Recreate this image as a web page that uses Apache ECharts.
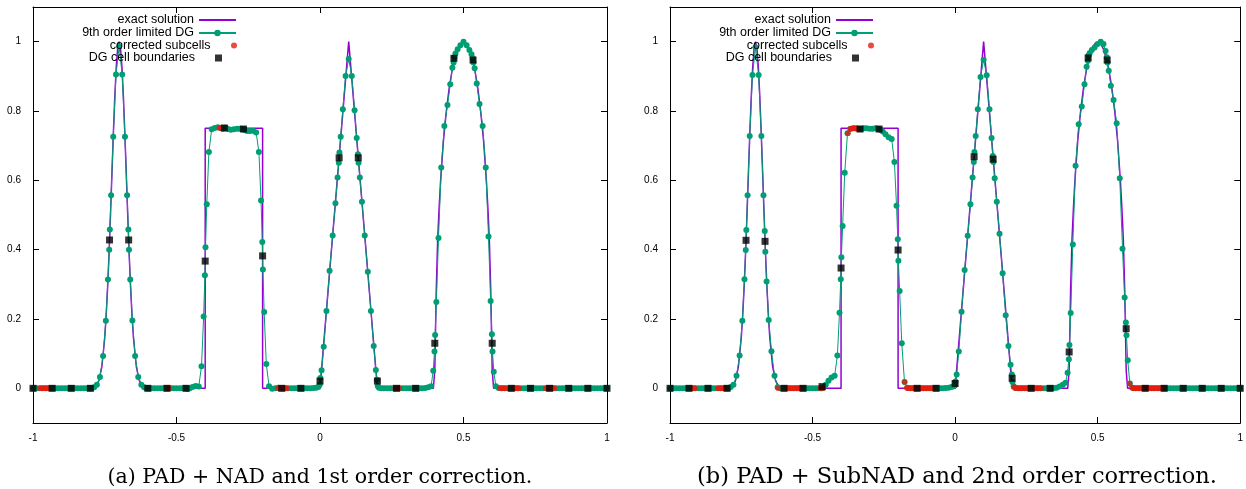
<!DOCTYPE html>
<html><head><meta charset="utf-8">
<script src="https://cdn.jsdelivr.net/npm/echarts@6/dist/echarts.min.js"></script>
<style>html,body{margin:0;padding:0;background:#fff}#c{width:1246px;height:489px}</style>
</head><body><div id="c"></div>
<script>
// ---------- data ----------
const xTicks = [-1, -0.5, 0, 0.5, 1];
const yTicks = [0, 0.2, 0.4, 0.6, 0.8, 1];
const captions = ['(a) PAD + NAD and 1st order correction.', '(b) PAD + SubNAD and 2nd order correction.'];
const seriesNames = ['exact solution', '9th order limited DG', 'corrected subcells', 'DG cell boundaries'];

// 9 Gauss-Legendre nodes inside each DG cell (fraction of the cell)
const gaussNodes = [0.01592, 0.08198, 0.19331, 0.33787, 0.5, 0.66213, 0.80669, 0.91802, 0.98408];
// DG cell boundaries
const cellEdges = [-1, -0.93333, -0.86667, -0.8, -0.73333, -0.66667, -0.6, -0.53333, -0.46667, -0.4,
  -0.33333, -0.26667, -0.2, -0.13333, -0.06667, 0, 0.06667, 0.13333, 0.2, 0.26667, 0.33333,
  0.4, 0.46667, 0.53333, 0.6, 0.66667, 0.73333, 0.8, 0.86667, 0.93333, 1];

// exact solution
const exactX = [-1, -0.8, -0.79, -0.78, -0.77, -0.76, -0.75, -0.745, -0.74, -0.735, -0.73, -0.725, -0.72, -0.715, -0.71, -0.705,
  -0.7, -0.695, -0.69, -0.685, -0.68, -0.675, -0.67, -0.665, -0.66, -0.655, -0.65, -0.64, -0.63, -0.62, -0.61, -0.6,
  -0.4, -0.4, -0.2, -0.2, 0, 0.1, 0.2, 0.395, 0.4, 0.405, 0.41, 0.415, 0.42, 0.43, 0.44, 0.45, 0.46, 0.47, 0.48, 0.49,
  0.5, 0.51, 0.52, 0.53, 0.54, 0.55, 0.56, 0.57, 0.58, 0.585, 0.59, 0.595, 0.6, 0.605, 1];
const exactY = [0, 0, 0.002, 0.007, 0.023, 0.063, 0.146, 0.21, 0.292, 0.389, 0.5, 0.618, 0.735, 0.841, 0.926, 0.981,
  1, 0.981, 0.926, 0.841, 0.735, 0.618, 0.5, 0.389, 0.292, 0.21, 0.146, 0.063, 0.023, 0.007, 0.002, 0,
  0, 0.75, 0.75, 0, 0, 1, 0, 0, 0.052, 0.281, 0.43, 0.52, 0.596, 0.713, 0.798, 0.865, 0.916, 0.953, 0.979, 0.994,
  0.998, 0.994, 0.979, 0.953, 0.916, 0.865, 0.798, 0.713, 0.596, 0.52, 0.43, 0.281, 0.052, 0, 0];

// panel (a): DG values at the 9 nodes of each of the 30 cells
const dgA = [
  [0,0,0,0,0,0,0,0,0],
  [0,0,0,0,0,0,0,0,0],
  [0,0,0,0,0,0,0,0,0],
  [0.0005,0.001,0.003,0.01,0.033,0.093,0.195,0.314,0.4],
  [0.458,0.557,0.726,0.905,0.986,0.905,0.726,0.557,0.458],
  [0.4,0.314,0.196,0.093,0.033,0.01,0.003,0.001,0.0005],
  [0,0,0,0,0,0,0,0,0],
  [0,0,0,0,0,0,0,0,0],
  [0,-0.001,0,0.004,0.007,0.005,0.064,0.207,0.326],
  [0.407,0.531,0.682,0.747,0.751,0.753,0.751,0.749,0.75],
  [0.752,0.751,0.748,0.746,0.747,0.749,0.749,0.748,0.747],
  [0.747,0.745,0.742,0.742,0.743,0.738,0.682,0.542,0.422],
  [0.343,0.22,0.07,0.006,-0.001,0,0.002,0.001,0],
  [0,0,0,0,0,0,0,0,0],
  [0,0,0,0,0,0.001,0.002,0.004,0.01],
  [0.03,0.052,0.12,0.223,0.339,0.441,0.534,0.608,0.651],
  [0.68,0.726,0.805,0.901,0.95,0.901,0.802,0.722,0.675],
  [0.651,0.608,0.538,0.441,0.336,0.223,0.122,0.053,0.025],
  [0.007,0.002,0,0,0,0,0,0,0],
  [0,0,0,0,0,0,0,0,0],
  [0,0,0,0,0.001,0.003,0.006,0.051,0.106],
  [0.154,0.249,0.434,0.637,0.757,0.817,0.877,0.925,0.94],
  [0.955,0.966,0.978,0.99,1.0,0.99,0.976,0.964,0.952],
  [0.94,0.923,0.879,0.82,0.757,0.637,0.438,0.252,0.156],
  [0.106,0.048,0.006,0.001,0,0,0,0,0],
  [0,0,0,0,0,0,0,0,0],
  [0,0,0,0,0,0,0,0,0],
  [0,0,0,0,0,0,0,0,0],
  [0,0,0,0,0,0,0,0,0],
  [0,0,0,0,0,0,0,0,0]
];
// panel (a): value at the DG cell boundaries
const edgeValA = [0,0,0,0,0.428,0.428,0,0,0,0.367,0.751,0.748,0.382,0,0,0.021,0.665,0.665,0.021,0,0,0.13,0.952,0.947,0.13,0,0,0,0,0,0];
// panel (a): corrected subcells
const redA = [[-0.975,0],[-0.971,0],[-0.967,0],[-0.963,0],[-0.959,0],[-0.955,0],[-0.951,0],[-0.947,0],
  [-0.529,0],[-0.526,0],[-0.351,0.751],[-0.347,0.751],
  [-0.146,0],[-0.142,0],[-0.127,0],[-0.123,0],[-0.119,0],[-0.115,0],
  [0.262,0],[0.271,0],[0.275,0],
  [0.627,0],[0.631,0],[0.635,0],[0.639,0],[0.643,0],[0.647,0],
  [0.678,0],[0.682,0],[0.686,0],[0.69,0],[0.694,0],
  [0.787,0],[0.791,0],[0.795,0],[0.805,0],[0.809,0],[0.813,0],[0.817,0]];

// panel (b)
const dgB = [
  [0,0,0,0,0,0,0,0,0],
  [0,0,0,0,0,0,0,0,0],
  [0,0,0,0,0,0,0,0,0],
  [0,0,0.004,0.01,0.036,0.095,0.195,0.315,0.399],
  [0.457,0.557,0.728,0.904,0.983,0.904,0.728,0.557,0.454],
  [0.394,0.308,0.197,0.107,0.036,0.003,0,0,0],
  [0,0,0,0,0,0,0,0,0],
  [0,0,0,0,0,0,0,0,0],
  [0.001,0.004,0.01,0.022,0.031,0.036,0.095,0.218,0.315],
  [0.378,0.468,0.622,0.736,0.749,0.75,0.75,0.749,0.748],
  [0.749,0.749,0.75,0.75,0.749,0.749,0.75,0.749,0.748],
  [0.747,0.745,0.741,0.733,0.724,0.719,0.653,0.527,0.43],
  [0.368,0.281,0.13,0.018,0.002,0,0,0,0],
  [0,0,0,0,0,0,0,0,0],
  [0,0,0,0,0.001,0.002,0.004,0.006,0.008],
  [0.02,0.04,0.106,0.221,0.341,0.44,0.531,0.608,0.653],
  [0.682,0.728,0.805,0.898,0.948,0.903,0.805,0.722,0.67],
  [0.653,0.606,0.538,0.446,0.332,0.211,0.122,0.068,0.04],
  [0.018,0.006,0.001,0,0,0,0,0,0],
  [0,0,0,0,0,0,0,0,0],
  [0,0,0.001,0.002,0.005,0.01,0.016,0.045,0.084],
  [0.125,0.217,0.415,0.642,0.762,0.813,0.877,0.928,0.945],
  [0.96,0.967,0.976,0.983,0.993,1.0,0.993,0.973,0.955],
  [0.94,0.916,0.873,0.832,0.765,0.606,0.403,0.262,0.19],
  [0.153,0.081,0.014,0.002,0,0,0,0,0],
  [0,0,0,0,0,0,0,0,0],
  [0,0,0,0,0,0,0,0,0],
  [0,0,0,0,0,0,0,0,0],
  [0,0,0,0,0,0,0,0,0],
  [0,0,0,0,0,0,0,0,0]
];
const edgeValB = [0,0,0,0,0.427,0.424,0,0,0.005,0.347,0.748,0.748,0.399,0,0,0.014,0.668,0.661,0.029,0,0,0.105,0.953,0.947,0.172,0,0,0,0,0,0];
const redB = [[-0.92,0],[-0.916,0],[-0.912,0],
  [-0.832,0],[-0.828,0],[-0.824,0],[-0.82,0],[-0.816,0],[-0.812,0],[-0.808,0],
  [-0.621,0],
  [-0.589,0],[-0.585,0],[-0.581,0],[-0.577,0],[-0.573,0],[-0.569,0],[-0.565,0],[-0.561,0],[-0.557,0],[-0.553,0],[-0.549,0],[-0.545,0],[-0.541,0],
  [-0.473,0],[-0.462,0],
  [-0.376,0.736],[-0.368,0.749],[-0.364,0.749],[-0.36,0.75],[-0.356,0.75],[-0.352,0.75],[-0.348,0.749],[-0.344,0.749],
  [-0.177,0.018],[-0.17,0.002],[-0.166,0],[-0.162,0],[-0.158,0],[-0.154,0],[-0.15,0],[-0.146,0],[-0.142,0],
  [-0.123,0],[-0.119,0],[-0.115,0],[-0.111,0],[-0.107,0],[-0.103,0],[-0.099,0],[-0.095,0],[-0.091,0],[-0.087,0],[-0.083,0],[-0.079,0],
  [0.206,0.004],[0.21,0.001],[0.214,0],[0.218,0],[0.222,0],[0.226,0],[0.23,0],[0.234,0],[0.238,0],[0.242,0],[0.246,0],[0.25,0],[0.254,0],
  [0.278,0],[0.282,0],[0.286,0],[0.29,0],[0.294,0],[0.298,0],[0.302,0],
  [0.612,0.014],[0.62,0.002],[0.624,0],[0.628,0],[0.632,0],[0.636,0],[0.64,0],[0.644,0],[0.648,0],[0.652,0],[0.656,0],[0.66,0],
  [0.672,0],[0.676,0],[0.68,0],[0.684,0],[0.688,0],[0.692,0],[0.696,0],[0.7,0],[0.704,0],[0.708,0],[0.712,0],[0.716,0],[0.72,0],[0.724,0],[0.728,0]];

// ---------- build ----------
function dgPoints(vals) {
  const pts = [];
  vals.forEach((row, k) => {
    const a = cellEdges[k], b = cellEdges[k + 1];
    row.forEach((v, j) => pts.push([a + gaussNodes[j] * (b - a), v]));
  });
  return pts;
}
const exactPts = exactX.map((x, i) => [x, exactY[i]]);
const edgePts = v => cellEdges.map((x, i) => [x, v[i]]);

const COL = { exact: '#9400d3', dg: '#009e73', red: '#e51e10', black: '#000000' };
const FONT = 'Liberation Sans';

const grids = [
  { left: 33, top: 7, width: 574, height: 416 },
  { left: 670, top: 7, width: 574, height: 416 }
];
const xAxes = [], yAxes = [];
[0, 1].forEach(g => {
  ['bottom', 'top'].forEach(pos => xAxes.push({
    type: 'value', gridIndex: g, position: pos, min: -1, max: 1, interval: 0.5,
    axisLine: { show: true, onZero: false, lineStyle: { color: '#000', width: 1 } },
    axisTick: { show: true, inside: true, length: 6, lineStyle: { color: '#000' } },
    axisLabel: { show: pos === 'bottom', margin: 10, color: '#000', fontSize: 10, fontFamily: FONT, showMinLabel: true, showMaxLabel: true },
    splitLine: { show: false }
  }));
  ['left', 'right'].forEach(pos => yAxes.push({
    type: 'value', gridIndex: g, position: pos, min: -0.1, max: 1.1,
    axisLine: { show: true, onZero: false, lineStyle: { color: '#000', width: 1 } },
    axisTick: { show: true, inside: true, length: 6, customValues: yTicks, lineStyle: { color: '#000' } },
    axisLabel: { show: pos === 'left', customValues: yTicks, margin: 12, color: '#000', fontSize: 10, fontFamily: FONT },
    splitLine: { show: false }
  }));
});

const series = [];
[[dgA, edgeValA, redA], [dgB, edgeValB, redB]].forEach(([dg, ev, red], g) => {
  const xi = g * 2, yi = g * 2;
  series.push({ name: seriesNames[0], type: 'line', xAxisIndex: xi, yAxisIndex: yi, data: exactPts,
    symbol: 'none', lineStyle: { color: COL.exact, width: 1.5 }, itemStyle: { color: COL.exact }, z: 2, animation: false });
  series.push({ name: seriesNames[1], type: 'line', xAxisIndex: xi, yAxisIndex: yi, data: dgPoints(dg),
    symbol: 'circle', symbolSize: 6, showSymbol: true, showAllSymbol: true,
    lineStyle: { color: COL.dg, width: 1 }, itemStyle: { color: COL.dg }, z: 3, animation: false });
  series.push({ name: seriesNames[2], type: 'scatter', xAxisIndex: xi, yAxisIndex: yi, data: red,
    symbol: 'circle', symbolSize: 5.5, itemStyle: { color: COL.red }, z: 4, clip: false, animation: false });
  series.push({ name: seriesNames[3], type: 'scatter', xAxisIndex: xi, yAxisIndex: yi, data: edgePts(ev),
    symbol: 'rect', symbolSize: 7, itemStyle: { color: COL.black }, z: 5, clip: false, animation: false });
});

// legend: text right-aligned, sample on the right (sample span 200-237 in panel a, 838-874 in panel b)
const sampleRight = [237, 874];
const rowTops = [13, 26, 38.5, 51];
const legendItemH = [12, 8, 6, 7];
const legends = [];
[0, 1].forEach(g => {
  seriesNames.forEach((n, i) => {
    const isSq = i === 3;
    const lg = {
      data: [n], right: isSq ? 1246 - (sampleRight[g] - 15) : 1246 - sampleRight[g], top: rowTops[i],
      align: 'right', orient: 'vertical',
      itemWidth: isSq ? 7 : 37, itemHeight: legendItemH[i], padding: 0, selectedMode: false,
      textStyle: { fontFamily: FONT, fontSize: 12.5, color: '#000', lineHeight: 14, padding: isSq ? [0, 15, 0, 0] : 0 }
    };
    if (i === 0) lg.itemStyle = { opacity: 0 };
    legends.push(lg);
  });
});

const titles = captions.map((t, i) => ({
  text: t, left: i === 0 ? 320 : 957, top: i === 0 ? 467 : 465.5, textAlign: 'center', padding: 0,
  textStyle: { fontFamily: 'DejaVu Serif', fontSize: i === 0 ? 20.5 : 22.5, fontWeight: 'normal', color: '#000' }
}));

const chart = echarts.init(document.getElementById('c'), null, { renderer: 'canvas' });
chart.setOption({
  animation: false, backgroundColor: '#fff',
  title: titles, legend: legends, grid: grids, xAxis: xAxes, yAxis: yAxes, series: series
});
</script></body></html>
